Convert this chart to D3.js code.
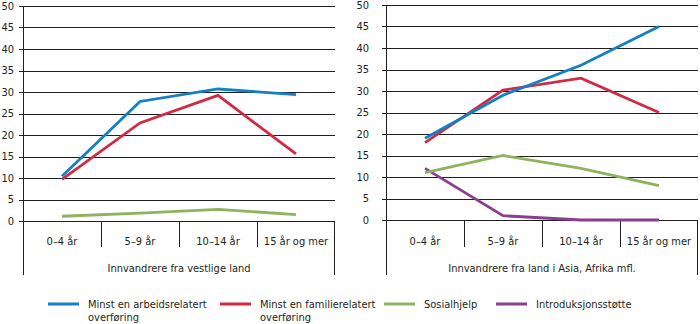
<!DOCTYPE html>
<html><head><meta charset="utf-8">
<script src="https://cdn.jsdelivr.net/npm/d3@7"></script>
<style>
body{margin:0;background:#fff}
text{font-family:"Liberation Sans Narrow","DejaVu Sans Condensed","Roboto",sans-serif;font-size:11px;fill:#231f20}
</style></head><body>
<svg id="c" width="700" height="324"></svg>
<script>
const categories = ["0–4 år","5–9 år","10–14 år","15 år og mer"];
const yTicks = [0,5,10,15,20,25,30,35,40,45,50];
const seriesNames = ["Minst en arbeidsrelatert overføring","Minst en familierelatert overføring","Sosialhjelp","Introduksjonsstøtte"];
const seriesColors = ["#1380c4","#d22a43","#8fb35c","#8c3d8e"];
const groupLabels = ["Innvandrere fra vestlige land","Innvandrere fra land i Asia, Afrika mfl."];
// left panel: vestlige land
const westArbeid = [10.4, 27.8, 30.7, 29.4];
const westFamilie = [9.7, 22.8, 29.2, 15.6];
const westSosial = [1.1, 1.85, 2.7, 1.5];
// right panel: Asia, Afrika mfl.
const asiaArbeid = [19, 29, 36, 45];
const asiaFamilie = [18, 30.2, 33, 25];
const asiaSosial = [11, 15, 12, 8];
const asiaIntro = [12, 1, 0, 0];

const svg = d3.select("#c");
const panels = [
  {x0:23, x1:335, yb:221, yt:6, labelOff:9, series:[westArbeid,westFamilie,westSosial], colors:[0,1,2], group:groupLabels[0]},
  {x0:386, x1:698, yb:220, yt:5, labelOff:17, series:[asiaArbeid,asiaFamilie,asiaSosial,asiaIntro], colors:[0,1,2,3], group:groupLabels[1]}
];
panels.forEach(p=>{
  const g = svg.append("g");
  const x = d3.scaleBand().domain(categories).range([p.x0,p.x1]);
  const y = d3.scaleLinear().domain([0,50]).range([p.yb,p.yt]);
  // gridlines
  g.selectAll("line.grid").data(yTicks).join("line")
    .attr("x1",p.x0-4).attr("x2",p.x1)
    .attr("y1",d=>Math.round(y(d))+0.5).attr("y2",d=>Math.round(y(d))+0.5)
    .attr("stroke","#231f20").attr("stroke-width",1);
  g.selectAll("text.yl").data(yTicks).join("text")
    .attr("x",p.x0-p.labelOff).attr("y",d=>y(d)).attr("dy","0.35em")
    .attr("text-anchor","end").text(d=>d);
  // y axis line
  g.append("line").attr("x1",p.x0+0.5).attr("x2",p.x0+0.5)
    .attr("y1",Math.round(y(50))).attr("y2",275).attr("stroke","#231f20");
  // right edge below axis
  g.append("line").attr("x1",p.x1-0.5).attr("x2",p.x1-0.5)
    .attr("y1",Math.round(y(0))).attr("y2",275).attr("stroke","#231f20");
  // category dividers
  const divs = categories.slice(1).map(c=>x(c));
  g.selectAll("line.div").data(divs).join("line")
    .attr("x1",d=>Math.round(d)+0.5).attr("x2",d=>Math.round(d)+0.5)
    .attr("y1",Math.round(y(0))).attr("y2",247).attr("stroke","#231f20");
  g.selectAll("text.cat").data(categories).join("text")
    .attr("x",d=>x(d)+x.bandwidth()/2).attr("y",241).attr("dy","0.35em")
    .attr("text-anchor","middle").text(d=>d);
  g.append("text").attr("x",(p.x0+p.x1)/2).attr("y",268).attr("dy","0.35em")
    .attr("text-anchor","middle").text(p.group);
  const line = d3.line().x((d,i)=>x(categories[i])+x.bandwidth()/2).y(d=>y(d));
  p.series.slice().reverse().forEach((s,ri)=>{
    const i = p.series.length-1-ri;
    g.append("path").datum(s).attr("d",line).attr("fill","none")
      .attr("stroke",seriesColors[p.colors[i]]).attr("stroke-width",2.8)
      .attr("stroke-linejoin","miter");
  });
});
// legend
const legX = [48,220,384,496];
const lg = svg.append("g");
seriesNames.forEach((n,i)=>{
  lg.append("line").attr("x1",legX[i]).attr("x2",legX[i]+31).attr("y1",304).attr("y2",304)
    .attr("stroke",seriesColors[i]).attr("stroke-width",3);
  const words = n.split(" ");
  const lines = i<2 ? [words.slice(0,-1).join(" "), words[words.length-1]] : [n];
  const t = lg.append("text").attr("x",legX[i]+40).attr("y",304).attr("dy","0.35em");
  lines.forEach((l,k)=>t.append("tspan").attr("x",legX[i]+40).attr("dy",k?"1.15em":"0.35em").text(l));
});
</script></body></html>
